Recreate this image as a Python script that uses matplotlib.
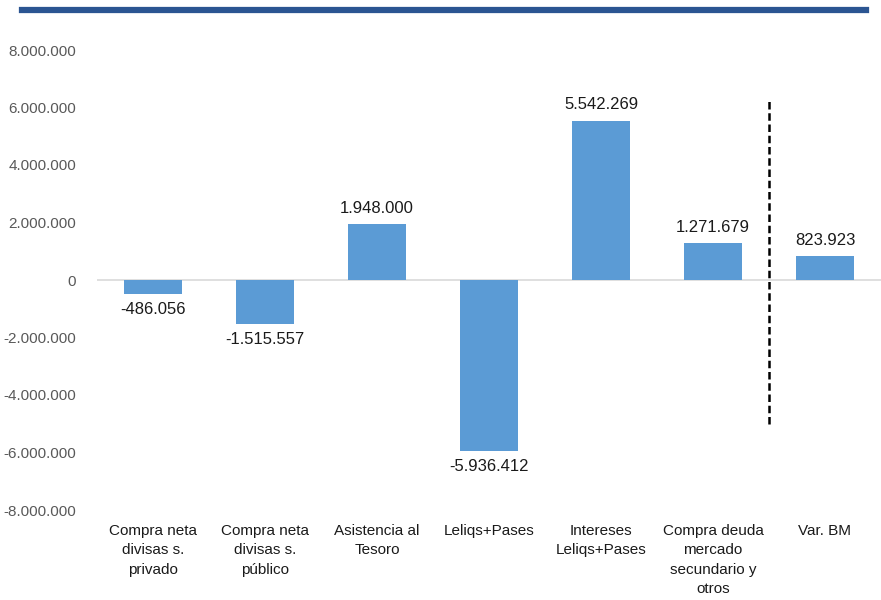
import matplotlib.pyplot as plt
from matplotlib.ticker import FuncFormatter
import numpy as np

plt.rcParams['font.family'] = ['Liberation Sans Narrow', 'Liberation Sans', 'DejaVu Sans']

categories = ['Compra neta\ndivisas s.\nprivado',
              'Compra neta\ndivisas s.\npúblico',
              'Asistencia al\nTesoro',
              'Leliqs+Pases',
              'Intereses\nLeliqs+Pases',
              'Compra deuda\nmercado\nsecundario y\notros',
              'Var. BM']
values = [-486056, -1515557, 1948000, -5936412, 5542269, 1271679, 823923]
yticks = [-8000000, -6000000, -4000000, -2000000, 0, 2000000, 4000000, 6000000, 8000000]

bar_color = '#5B9BD5'


def miles(v, pos=None):
    # thousands separated with dots
    s = f'{abs(int(round(v))):,}'.replace(',', '.')
    return ('-' if v < 0 else '') + s


fig = plt.figure(figsize=(8.81, 6.0), dpi=100)
ax = fig.add_axes([97 / 881, 90 / 600, 784 / 881, 460 / 600])

x = np.arange(len(categories))
ax.bar(x, values, width=0.51, color=bar_color, zorder=2)
ax.axhline(0, color='#D9D9D9', linewidth=1.2, zorder=1)

for xi, v in zip(x, values):
    if v >= 0:
        ax.annotate(miles(v), (xi, v), xytext=(0, 6), textcoords='offset points',
                    ha='center', va='bottom', fontsize=12, color='#1a1a1a')
    else:
        ax.annotate(miles(v), (xi, v), xytext=(0, -6), textcoords='offset points',
                    ha='center', va='top', fontsize=12, color='#1a1a1a')

# separator before the total
ax.plot([5.5, 5.5], [-5000000, 6300000], color='black', linestyle=(0, (3, 1.5)),
        linewidth=1.8, zorder=3)

ax.set_xlim(-0.5, 6.5)
ax.set_ylim(-8000000, 8000000)
ax.set_yticks(yticks)
ax.yaxis.set_major_formatter(FuncFormatter(miles))
ax.set_xticks(x)
ax.set_xticklabels(categories, fontsize=11, color='#1a1a1a', linespacing=1.5)
ax.tick_params(axis='y', labelsize=11, labelcolor='#595959', length=0, pad=15)
ax.tick_params(axis='x', length=0, pad=10)
for side in ['top', 'right', 'left', 'bottom']:
    ax.spines[side].set_visible(False)

# header rule
fig.add_artist(plt.Line2D([22 / 881, 866 / 881], [1 - 9.5 / 600, 1 - 9.5 / 600],
                          color='#2B5592', linewidth=4.5))

fig.savefig('out.png', dpi=100)
